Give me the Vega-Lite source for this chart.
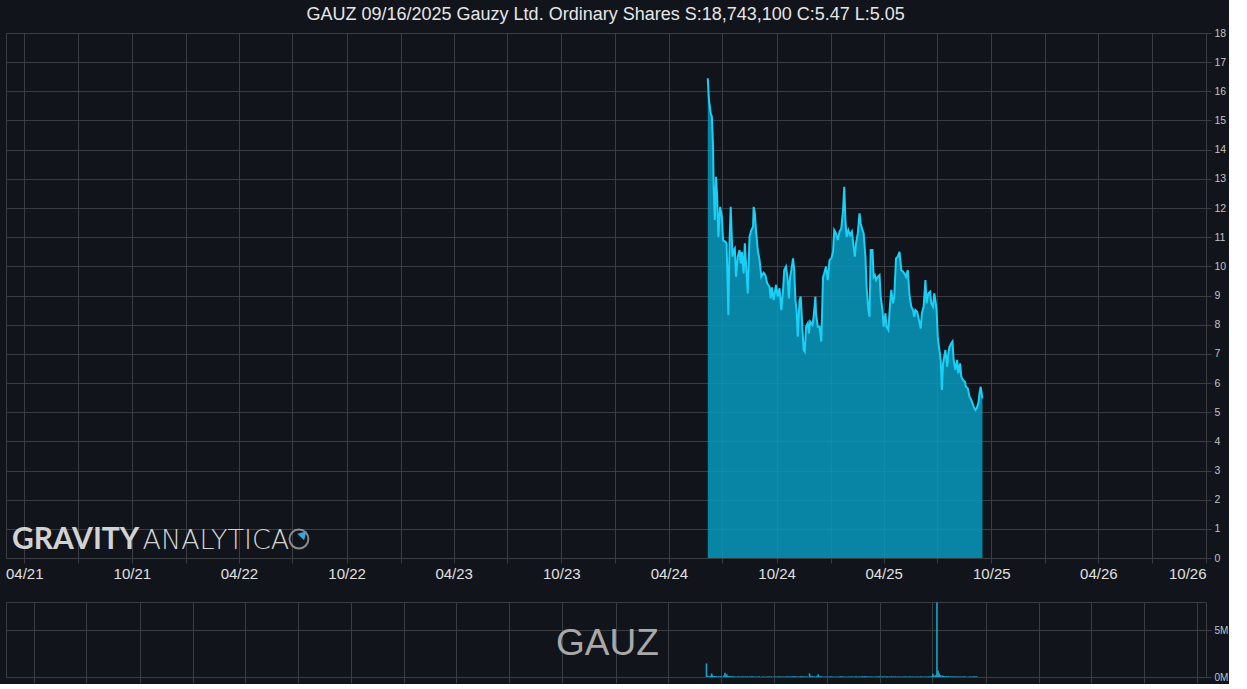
{
  "$schema": "https://vega.github.io/schema/vega-lite/v6.json",
  "background": "#11141a",
  "padding": {"left": 4, "top": 5, "right": 0, "bottom": 0},
  "title": {"text": "GAUZ 09/16/2025 Gauzy Ltd. Ordinary Shares S:18,743,100 C:5.47 L:5.05", "fontSize": 18, "color": "#e6e6e6", "font": "Liberation Sans", "fontWeight": "normal", "anchor": "middle", "offset": 4, "dx": -11},
  "spacing": 44,
  "bounds": "flush",
  "datasets": {
    "px": [
      {"d":"2024-06-06","c":16.45,"v":1450000},
      {"d":"2024-06-08","c":15.70,"v":150000},
      {"d":"2024-06-11","c":15.25,"v":100000},
      {"d":"2024-06-13","c":15.13,"v":120000},
      {"d":"2024-06-15","c":14.10,"v":380000},
      {"d":"2024-06-16","c":12.73,"v":200000},
      {"d":"2024-06-18","c":11.59,"v":90000},
      {"d":"2024-06-20","c":13.07,"v":110000},
      {"d":"2024-06-22","c":12.39,"v":80000},
      {"d":"2024-06-24","c":11.01,"v":90000},
      {"d":"2024-06-27","c":12.04,"v":100000},
      {"d":"2024-06-30","c":11.70,"v":80000},
      {"d":"2024-07-02","c":10.90,"v":90000},
      {"d":"2024-07-06","c":10.84,"v":150000},
      {"d":"2024-07-08","c":10.79,"v":460000},
      {"d":"2024-07-11","c":8.33,"v":300000},
      {"d":"2024-07-13","c":10.79,"v":120000},
      {"d":"2024-07-15","c":12.04,"v":100000},
      {"d":"2024-07-18","c":10.33,"v":90000},
      {"d":"2024-07-20","c":10.56,"v":70000},
      {"d":"2024-07-22","c":10.62,"v":60000},
      {"d":"2024-07-24","c":9.64,"v":80000},
      {"d":"2024-07-27","c":10.33,"v":60000},
      {"d":"2024-07-30","c":10.56,"v":70000},
      {"d":"2024-08-01","c":10.10,"v":60000},
      {"d":"2024-08-03","c":10.50,"v":50000},
      {"d":"2024-08-06","c":9.76,"v":70000},
      {"d":"2024-08-08","c":10.79,"v":60000},
      {"d":"2024-08-10","c":10.10,"v":50000},
      {"d":"2024-08-13","c":9.07,"v":80000},
      {"d":"2024-08-16","c":11.01,"v":70000},
      {"d":"2024-08-19","c":11.24,"v":60000},
      {"d":"2024-08-22","c":11.36,"v":50000},
      {"d":"2024-08-23","c":12.04,"v":70000},
      {"d":"2024-08-25","c":11.82,"v":60000},
      {"d":"2024-08-27","c":11.24,"v":50000},
      {"d":"2024-08-30","c":10.56,"v":60000},
      {"d":"2024-09-02","c":10.22,"v":50000},
      {"d":"2024-09-05","c":9.64,"v":70000},
      {"d":"2024-09-09","c":9.78,"v":50000},
      {"d":"2024-09-12","c":9.70,"v":60000},
      {"d":"2024-09-15","c":9.42,"v":50000},
      {"d":"2024-09-19","c":9.30,"v":60000},
      {"d":"2024-09-21","c":8.90,"v":50000},
      {"d":"2024-09-23","c":9.28,"v":60000},
      {"d":"2024-09-26","c":8.84,"v":70000},
      {"d":"2024-09-30","c":9.36,"v":50000},
      {"d":"2024-10-03","c":8.96,"v":60000},
      {"d":"2024-10-06","c":9.25,"v":50000},
      {"d":"2024-10-09","c":8.50,"v":70000},
      {"d":"2024-10-12","c":9.19,"v":60000},
      {"d":"2024-10-14","c":9.87,"v":50000},
      {"d":"2024-10-17","c":9.99,"v":60000},
      {"d":"2024-10-20","c":9.53,"v":50000},
      {"d":"2024-10-22","c":8.90,"v":60000},
      {"d":"2024-10-24","c":9.64,"v":50000},
      {"d":"2024-10-26","c":9.87,"v":60000},
      {"d":"2024-10-29","c":10.27,"v":70000},
      {"d":"2024-10-31","c":9.87,"v":50000},
      {"d":"2024-11-02","c":8.84,"v":60000},
      {"d":"2024-11-04","c":8.50,"v":70000},
      {"d":"2024-11-06","c":7.59,"v":90000},
      {"d":"2024-11-09","c":8.84,"v":60000},
      {"d":"2024-11-11","c":8.96,"v":50000},
      {"d":"2024-11-14","c":7.82,"v":70000},
      {"d":"2024-11-16","c":7.13,"v":80000},
      {"d":"2024-11-18","c":7.07,"v":60000},
      {"d":"2024-11-20","c":7.93,"v":70000},
      {"d":"2024-11-23","c":8.05,"v":50000},
      {"d":"2024-11-25","c":7.70,"v":60000},
      {"d":"2024-11-27","c":8.10,"v":50000},
      {"d":"2024-12-01","c":7.99,"v":380000},
      {"d":"2024-12-03","c":8.27,"v":120000},
      {"d":"2024-12-06","c":8.96,"v":100000},
      {"d":"2024-12-07","c":8.39,"v":80000},
      {"d":"2024-12-10","c":7.93,"v":60000},
      {"d":"2024-12-13","c":7.93,"v":100000},
      {"d":"2024-12-16","c":7.42,"v":300000},
      {"d":"2024-12-19","c":9.64,"v":120000},
      {"d":"2024-12-21","c":9.76,"v":70000},
      {"d":"2024-12-24","c":9.99,"v":60000},
      {"d":"2024-12-27","c":9.53,"v":50000},
      {"d":"2024-12-30","c":10.22,"v":60000},
      {"d":"2025-01-02","c":10.27,"v":50000},
      {"d":"2025-01-05","c":10.50,"v":60000},
      {"d":"2025-01-07","c":11.24,"v":70000},
      {"d":"2025-01-10","c":11.13,"v":60000},
      {"d":"2025-01-13","c":10.90,"v":50000},
      {"d":"2025-01-16","c":11.19,"v":60000},
      {"d":"2025-01-19","c":11.30,"v":50000},
      {"d":"2025-01-22","c":11.93,"v":70000},
      {"d":"2025-01-24","c":12.73,"v":90000},
      {"d":"2025-01-26","c":11.59,"v":60000},
      {"d":"2025-01-28","c":11.01,"v":50000},
      {"d":"2025-01-31","c":11.24,"v":60000},
      {"d":"2025-02-03","c":11.07,"v":50000},
      {"d":"2025-02-06","c":11.19,"v":60000},
      {"d":"2025-02-09","c":10.67,"v":50000},
      {"d":"2025-02-11","c":10.33,"v":60000},
      {"d":"2025-02-13","c":10.79,"v":50000},
      {"d":"2025-02-16","c":11.13,"v":60000},
      {"d":"2025-02-19","c":11.82,"v":70000},
      {"d":"2025-02-21","c":11.47,"v":60000},
      {"d":"2025-02-24","c":11.24,"v":50000},
      {"d":"2025-02-26","c":11.13,"v":60000},
      {"d":"2025-03-01","c":10.33,"v":70000},
      {"d":"2025-03-03","c":9.30,"v":80000},
      {"d":"2025-03-06","c":8.50,"v":90000},
      {"d":"2025-03-08","c":8.27,"v":70000},
      {"d":"2025-03-10","c":10.56,"v":90000},
      {"d":"2025-03-13","c":10.56,"v":60000},
      {"d":"2025-03-15","c":9.64,"v":50000},
      {"d":"2025-03-17","c":9.70,"v":60000},
      {"d":"2025-03-19","c":9.53,"v":50000},
      {"d":"2025-03-22","c":9.64,"v":60000},
      {"d":"2025-03-25","c":9.70,"v":50000},
      {"d":"2025-03-27","c":8.96,"v":60000},
      {"d":"2025-03-30","c":8.50,"v":70000},
      {"d":"2025-04-01","c":7.93,"v":80000},
      {"d":"2025-04-04","c":8.39,"v":60000},
      {"d":"2025-04-06","c":7.93,"v":70000},
      {"d":"2025-04-09","c":7.82,"v":80000},
      {"d":"2025-04-12","c":8.73,"v":60000},
      {"d":"2025-04-14","c":9.19,"v":70000},
      {"d":"2025-04-17","c":8.73,"v":50000},
      {"d":"2025-04-19","c":8.96,"v":60000},
      {"d":"2025-04-22","c":10.27,"v":80000},
      {"d":"2025-04-25","c":10.33,"v":60000},
      {"d":"2025-04-28","c":10.50,"v":70000},
      {"d":"2025-05-01","c":9.87,"v":60000},
      {"d":"2025-05-04","c":9.82,"v":50000},
      {"d":"2025-05-06","c":9.76,"v":60000},
      {"d":"2025-05-09","c":9.64,"v":50000},
      {"d":"2025-05-12","c":9.87,"v":60000},
      {"d":"2025-05-15","c":9.00,"v":70000},
      {"d":"2025-05-18","c":8.62,"v":60000},
      {"d":"2025-05-21","c":8.50,"v":50000},
      {"d":"2025-05-23","c":8.27,"v":60000},
      {"d":"2025-05-25","c":8.50,"v":50000},
      {"d":"2025-05-28","c":8.44,"v":60000},
      {"d":"2025-05-31","c":8.16,"v":50000},
      {"d":"2025-06-03","c":7.87,"v":60000},
      {"d":"2025-06-05","c":8.39,"v":50000},
      {"d":"2025-06-08","c":8.62,"v":60000},
      {"d":"2025-06-11","c":9.53,"v":70000},
      {"d":"2025-06-13","c":8.73,"v":60000},
      {"d":"2025-06-16","c":9.07,"v":50000},
      {"d":"2025-06-19","c":9.13,"v":60000},
      {"d":"2025-06-21","c":8.73,"v":50000},
      {"d":"2025-06-24","c":8.62,"v":60000},
      {"d":"2025-06-26","c":9.07,"v":50000},
      {"d":"2025-06-28","c":8.84,"v":60000},
      {"d":"2025-06-30","c":8.50,"v":70000},
      {"d":"2025-07-02","c":7.59,"v":350000},
      {"d":"2025-07-04","c":7.24,"v":150000},
      {"d":"2025-07-07","c":6.79,"v":200000},
      {"d":"2025-07-09","c":5.76,"v":7950000},
      {"d":"2025-07-11","c":6.67,"v":700000},
      {"d":"2025-07-13","c":6.90,"v":380000},
      {"d":"2025-07-15","c":7.13,"v":200000},
      {"d":"2025-07-18","c":6.56,"v":150000},
      {"d":"2025-07-20","c":7.02,"v":120000},
      {"d":"2025-07-22","c":7.24,"v":100000},
      {"d":"2025-07-25","c":7.36,"v":90000},
      {"d":"2025-07-27","c":7.42,"v":80000},
      {"d":"2025-07-29","c":6.79,"v":90000},
      {"d":"2025-08-01","c":6.45,"v":80000},
      {"d":"2025-08-04","c":6.79,"v":70000},
      {"d":"2025-08-06","c":6.33,"v":60000},
      {"d":"2025-08-09","c":6.67,"v":70000},
      {"d":"2025-08-11","c":6.22,"v":60000},
      {"d":"2025-08-14","c":6.10,"v":70000},
      {"d":"2025-08-17","c":6.04,"v":60000},
      {"d":"2025-08-19","c":5.87,"v":50000},
      {"d":"2025-08-22","c":5.82,"v":60000},
      {"d":"2025-08-25","c":5.53,"v":70000},
      {"d":"2025-08-28","c":5.42,"v":60000},
      {"d":"2025-09-01","c":5.19,"v":50000},
      {"d":"2025-09-04","c":5.07,"v":60000},
      {"d":"2025-09-06","c":5.13,"v":50000},
      {"d":"2025-09-09","c":5.30,"v":60000},
      {"d":"2025-09-11","c":5.65,"v":70000},
      {"d":"2025-09-13","c":5.87,"v":60000},
      {"d":"2025-09-15","c":5.59,"v":50000},
      {"d":"2025-09-16","c":5.47,"v":60000}
    ],
    "wm1": [
      {"t": "GRAVITY", "d": "2021-03-11", "c": 0.31}
    ],
    "wm2": [
      {"t": "ANALYTICA", "d": "2021-10-19", "c": 0.31}
    ],
    "logo": [
      {"d": "2022-07-12", "c": 0.65}
    ],
    "logo2": [
      {"d": "2022-07-20", "c": 0.82}
    ],
    "vlabel": [
      {"t": "GAUZ", "d": "2023-12-18", "v": 2340000}
    ]
  },
  "vconcat": [
    {
      "width": 1200,
      "height": 525,
      "encoding": {
        "x": {"field": "d", "type": "temporal",
          "scale": {"domain": [{"year": 2021, "month": 3, "date": 1}, {"year": 2026, "month": 10, "date": 1}]},
          "axis": {
            "values": [
              {"year": 2021, "month": 4, "date": 1}, {"year": 2021, "month": 7, "date": 1}, {"year": 2021, "month": 10, "date": 1},
              {"year": 2022, "month": 1, "date": 1}, {"year": 2022, "month": 4, "date": 1}, {"year": 2022, "month": 7, "date": 1}, {"year": 2022, "month": 10, "date": 1},
              {"year": 2023, "month": 1, "date": 1}, {"year": 2023, "month": 4, "date": 1}, {"year": 2023, "month": 7, "date": 1}, {"year": 2023, "month": 10, "date": 1},
              {"year": 2024, "month": 1, "date": 1}, {"year": 2024, "month": 4, "date": 1}, {"year": 2024, "month": 7, "date": 1}, {"year": 2024, "month": 10, "date": 1},
              {"year": 2025, "month": 1, "date": 1}, {"year": 2025, "month": 4, "date": 1}, {"year": 2025, "month": 7, "date": 1}, {"year": 2025, "month": 10, "date": 1},
              {"year": 2026, "month": 1, "date": 1}, {"year": 2026, "month": 4, "date": 1}, {"year": 2026, "month": 7, "date": 1}, {"year": 2026, "month": 10, "date": 1}
            ],
            "tickCount": 40,
            "labelExpr": "(month(datum.value) == 3 || month(datum.value) == 9) ? timeFormat(datum.value, '%m/%y') : ''",
            "labelFontSize": 15, "labelColor": "#e0e0e0", "labelPadding": 3, "tickSize": 5,
            "labelFlush": true, "labelOverlap": false, "grid": true, "title": null
          }
        },
        "y": {"field": "c", "type": "quantitative",
          "scale": {"domain": [0, 18], "nice": false, "zero": true},
          "axis": {"orient": "right", "values": [0,1,2,3,4,5,6,7,8,9,10,11,12,13,14,15,16,17,18], "tickCount": 40, "format": "d",
            "labelFontSize": 10.5, "labelColor": "#c4c4c4", "tickSize": 5, "labelPadding": 3, "labelOverlap": false, "grid": true, "title": null}
        }
      },
      "layer": [
        {
          "data": {"name": "px"},
          "mark": {"type": "area", "color": "#0799bd", "opacity": 0.85}
        },
        {
          "data": {"name": "px"},
          "mark": {"type": "line", "color": "#1bd0f7", "strokeWidth": 2}
        },
        {
          "data": {"name": "wm1"},
          "mark": {"type": "text", "font": "Lato", "fontWeight": "bold", "fontSize": 30, "color": "#d2d2d2", "align": "left", "baseline": "alphabetic"},
          "encoding": {"text": {"field": "t"}}
        },
        {
          "data": {"name": "wm2"},
          "mark": {"type": "text", "font": "DejaVu Sans", "fontWeight": 200, "fontSize": 27, "color": "#d2d2d2", "align": "left", "baseline": "alphabetic"},
          "encoding": {"text": {"field": "t"}}
        },
        {
          "data": {"name": "logo"},
          "mark": {"type": "point", "shape": "circle", "size": 360, "filled": false, "stroke": "#bdbdbd", "strokeWidth": 2}
        },
        {
          "data": {"name": "logo2"},
          "mark": {"type": "point", "shape": "triangle-up", "size": 90, "filled": true, "color": "#3aa6d6", "angle": 45, "opacity": 1}
        }
      ]
    },
    {
      "width": 1200,
      "height": 75,
      "encoding": {
        "x": {"field": "d", "type": "temporal",
          "scale": {"domain": [{"year": 2021, "month": 2, "date": 21}, {"year": 2026, "month": 10, "date": 8}]},
          "axis": {
            "values": [
              {"year": 2021, "month": 4, "date": 1}, {"year": 2021, "month": 7, "date": 1}, {"year": 2021, "month": 10, "date": 1},
              {"year": 2022, "month": 1, "date": 1}, {"year": 2022, "month": 4, "date": 1}, {"year": 2022, "month": 7, "date": 1}, {"year": 2022, "month": 10, "date": 1},
              {"year": 2023, "month": 1, "date": 1}, {"year": 2023, "month": 4, "date": 1}, {"year": 2023, "month": 7, "date": 1}, {"year": 2023, "month": 10, "date": 1},
              {"year": 2024, "month": 1, "date": 1}, {"year": 2024, "month": 4, "date": 1}, {"year": 2024, "month": 7, "date": 1}, {"year": 2024, "month": 10, "date": 1},
              {"year": 2025, "month": 1, "date": 1}, {"year": 2025, "month": 4, "date": 1}, {"year": 2025, "month": 7, "date": 1}, {"year": 2025, "month": 10, "date": 1},
              {"year": 2026, "month": 1, "date": 1}, {"year": 2026, "month": 4, "date": 1}, {"year": 2026, "month": 7, "date": 1}, {"year": 2026, "month": 10, "date": 1}
            ],
            "tickCount": 40,
            "labels": false, "tickSize": 6, "grid": true, "title": null
          }
        },
        "y": {"field": "v", "type": "quantitative",
          "scale": {"domain": [0, 8000000], "nice": false},
          "axis": {"orient": "right", "values": [0, 5000000],
            "labelExpr": "format(datum.value / 1000000, 'd') + 'M'",
            "labelFontSize": 10, "labelColor": "#c4c4c4", "tickSize": 5, "labelPadding": 3, "grid": true, "title": null}
        }
      },
      "layer": [
        {
          "data": {"name": "px"},
          "mark": {"type": "bar", "color": "#1aa3c7", "size": 1.6}
        },
        {
          "data": {"name": "vlabel"},
          "mark": {"type": "text", "fontSize": 37, "color": "#a9a9a9", "align": "center", "baseline": "alphabetic"},
          "encoding": {"text": {"field": "t"}}
        }
      ]
    }
  ],
  "resolve": {"scale": {"x": "independent", "y": "independent"}},
  "config": {
    "font": "Liberation Sans",
    "view": {"stroke": "#3a3d42", "strokeWidth": 1},
    "axis": {"gridColor": "#3a3d42", "gridOpacity": 1, "tickColor": "#3a3d42", "domain": false, "labelFont": "Liberation Sans"}
  }
}
